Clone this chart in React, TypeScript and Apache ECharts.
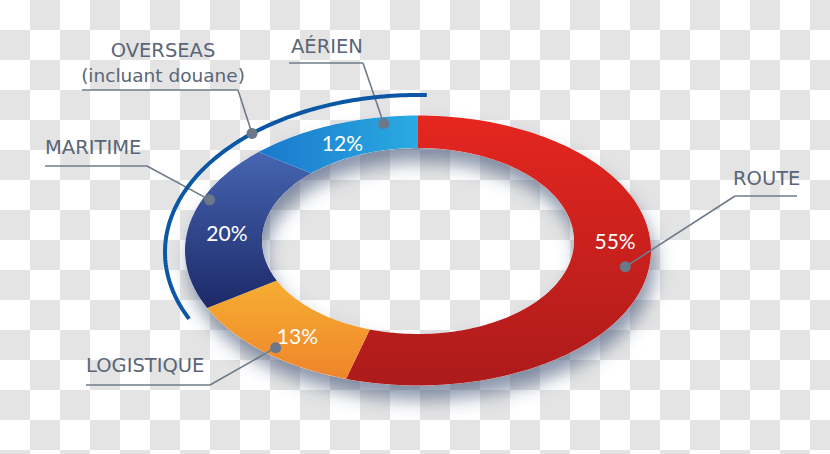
import React, { useEffect, useRef } from "react";
import * as echarts from "echarts";

// ---- data ----
const categories = ["ROUTE", "LOGISTIQUE", "MARITIME", "AÉRIEN"];
const shares = [55, 13, 20, 12];
const overseasMembers = ["MARITIME", "AÉRIEN"];
const overseasTitle = "OVERSEAS";
const overseasSubtitle = "(incluant douane)";

// ---- styles / layout ----
const sliceColors: [string, string, string][] = [
  ["#e5261f", "#ac1b1b", "v"],
  ["#f6ae32", "#ef842b", "v"],
  ["#4665b1", "#1c2968", "v"],
  ["#1a78cd", "#2aabe2", "h"],
];
const RING = { cx: 418, cyO: 250.5, rxO: 233, ryO: 135, cyI: 241, rxI: 156, ryI: 93 };
const ARC = { cx: 418, cy: 252, rx: 253, ry: 157, overshoot: 2, dotAngle: 319 };
const callouts = [
  { frac: 0.5, t: 0.7, pct: [5, -23], text: [733, 178], line: [735, 797, 196], end: 0 },
  { frac: 0.47, t: 0.85, pct: [8, 4], text: [86, 365], line: [86, 210, 385], end: 1 },
  { frac: 0.66, t: 0.9, pct: [0, 8], text: [45, 147], line: [45, 147, 166], end: 1 },
  { frac: 0.79, t: 0.8, pct: [-4, 3], text: [291, 46], line: [289, 363, 63], end: 1 },
];
const OVERSEAS_LAYOUT = { title: [163, 50], sub: [163, 75], line: [82, 238, 90] };
const TEXT = "#5a6677";
const LINE = "#6f7b8a";
const DOT = "#6b788a";
const ARC_COLOR = "#0b57a6";
const PCT_FONT = "Lato";
const CAP_FONT = "DejaVu Sans";

const total = shares.reduce((a, b) => a + b, 0);
const startAngles = shares.map(
  (_, i) => (360 * shares.slice(0, i).reduce((a, b) => a + b, 0)) / total
);

function ringPoint(deg: number, t: number): number[] {
  const a = (deg * Math.PI) / 180;
  const s = Math.sin(a);
  const c = Math.cos(a);
  const xo = RING.cx + RING.rxO * s;
  const yo = RING.cyO - RING.ryO * c;
  const xi = RING.cx + RING.rxI * s;
  const yi = RING.cyI - RING.ryI * c;
  return [xi + (xo - xi) * t, yi + (yo - yi) * t];
}

function sectorPoints(a0: number, a1: number): number[][] {
  const n = Math.max(6, Math.ceil(Math.abs(a1 - a0) / 1.5));
  const pts: number[][] = [];
  for (let i = 0; i <= n; i++) pts.push(ringPoint(a0 + ((a1 - a0) * i) / n, 1));
  for (let i = n; i >= 0; i--) pts.push(ringPoint(a0 + ((a1 - a0) * i) / n, 0));
  return pts;
}

function arcPoint(deg: number): number[] {
  const a = (deg * Math.PI) / 180;
  return [ARC.cx + ARC.rx * Math.sin(a), ARC.cy - ARC.ry * Math.cos(a)];
}

function buildOption(): any {
  return {
    animation: false,
    backgroundColor: "transparent",
    series: [
      {
        type: "custom",
        coordinateSystem: "none",
        silent: true,
        z: 1,
        data: [total],
        renderItem: () => ({
          type: "polygon",
          shape: { points: sectorPoints(0, 360) },
          style: {
            fill: "#ffffff",
            shadowColor: "rgba(60,80,115,0.6)",
            shadowBlur: 18,
            shadowOffsetX: 4,
            shadowOffsetY: 14,
          },
        }),
      },
      {
        type: "custom",
        coordinateSystem: "none",
        silent: true,
        z: 2,
        data: shares.map((v, i) => ({ name: categories[i], value: v })),
        renderItem: (params: any) => {
          const i = params.dataIndex;
          const a0 = startAngles[i];
          const a1 = a0 + (360 * shares[i]) / total;
          const col = sliceColors[i];
          const horiz = col[2] === "h";
          const fill = new echarts.graphic.LinearGradient(0, 0, horiz ? 1 : 0, horiz ? 0 : 1, [
            { offset: 0, color: col[0] },
            { offset: 1, color: col[1] },
          ]);
          const co = callouts[i];
          const mid = ringPoint((a0 + a1) / 2, 0.5);
          const dot = ringPoint(a0 + (a1 - a0) * co.frac, co.t);
          const [lx0, lx1, ly] = co.line;
          const endX = co.end === 0 ? lx0 : lx1;
          return {
            type: "group",
            children: [
              { type: "polygon", shape: { points: sectorPoints(a0, a1) }, style: { fill } },
              {
                type: "text",
                x: mid[0] + co.pct[0],
                y: mid[1] + co.pct[1],
                style: {
                  text: Math.round((100 * shares[i]) / total) + "%",
                  fill: "#ffffff",
                  fontSize: 21,
                  fontFamily: PCT_FONT,
                  align: "center",
                  verticalAlign: "middle",
                },
              },
              {
                type: "line",
                shape: { x1: lx0, y1: ly, x2: lx1, y2: ly },
                style: { stroke: LINE, lineWidth: 1.6 },
              },
              {
                type: "line",
                shape: { x1: endX, y1: ly, x2: dot[0], y2: dot[1] },
                style: { stroke: LINE, lineWidth: 1.6 },
              },
              { type: "circle", shape: { cx: dot[0], cy: dot[1], r: 5.5 }, style: { fill: DOT } },
              {
                type: "text",
                x: co.text[0],
                y: co.text[1],
                style: {
                  text: categories[i],
                  fill: TEXT,
                  fontSize: 19.5,
                  fontFamily: CAP_FONT,
                  align: "left",
                  verticalAlign: "middle",
                },
              },
            ],
          };
        },
      },
      {
        type: "custom",
        coordinateSystem: "none",
        silent: true,
        z: 3,
        data: [
          {
            name: overseasTitle,
            value: overseasMembers.reduce((s, m) => s + shares[categories.indexOf(m)], 0),
          },
        ],
        renderItem: () => {
          const firstIdx = categories.indexOf(overseasMembers[0]);
          const lastIdx = categories.indexOf(overseasMembers[overseasMembers.length - 1]);
          const m0 = startAngles[firstIdx];
          const m1 = startAngles[lastIdx] + (360 * shares[lastIdx]) / total + ARC.overshoot;
          const pts: number[][] = [];
          const n = 120;
          for (let k = 0; k <= n; k++) pts.push(arcPoint(m0 + ((m1 - m0) * k) / n));
          const dot = arcPoint(ARC.dotAngle);
          const [lx0, lx1, ly] = OVERSEAS_LAYOUT.line;
          return {
            type: "group",
            children: [
              {
                type: "polyline",
                shape: { points: pts },
                style: { stroke: ARC_COLOR, lineWidth: 4, fill: null },
              },
              {
                type: "line",
                shape: { x1: lx0, y1: ly, x2: lx1, y2: ly },
                style: { stroke: LINE, lineWidth: 1.6 },
              },
              {
                type: "line",
                shape: { x1: lx1, y1: ly, x2: dot[0], y2: dot[1] },
                style: { stroke: LINE, lineWidth: 1.6 },
              },
              { type: "circle", shape: { cx: dot[0], cy: dot[1], r: 5.5 }, style: { fill: DOT } },
              {
                type: "text",
                x: OVERSEAS_LAYOUT.title[0],
                y: OVERSEAS_LAYOUT.title[1],
                style: {
                  text: overseasTitle,
                  fill: TEXT,
                  fontSize: 19.5,
                  fontFamily: CAP_FONT,
                  align: "center",
                  verticalAlign: "middle",
                },
              },
              {
                type: "text",
                x: OVERSEAS_LAYOUT.sub[0],
                y: OVERSEAS_LAYOUT.sub[1],
                style: {
                  text: overseasSubtitle,
                  fill: TEXT,
                  fontSize: 18.5,
                  fontFamily: CAP_FONT,
                  align: "center",
                  verticalAlign: "middle",
                },
              },
            ],
          };
        },
      },
    ],
  };
}

export default function App() {
  const ref = useRef<HTMLDivElement>(null);
  useEffect(() => {
    if (!ref.current) return;
    const chart = echarts.init(ref.current, null, { renderer: "svg" });
    chart.setOption(buildOption());
    return () => chart.dispose();
  }, []);
  return (
    <div
      ref={ref}
      style={{
        position: "fixed",
        left: 0,
        top: 0,
        width: 830,
        height: 454,
        backgroundColor: "#ffffff",
        backgroundImage:
          "conic-gradient(#e4e4e4 0 25%, #ffffff 0 50%, #e4e4e4 0 75%, #ffffff 0)",
        backgroundSize: "60px 60px",
      }}
    />
  );
}
